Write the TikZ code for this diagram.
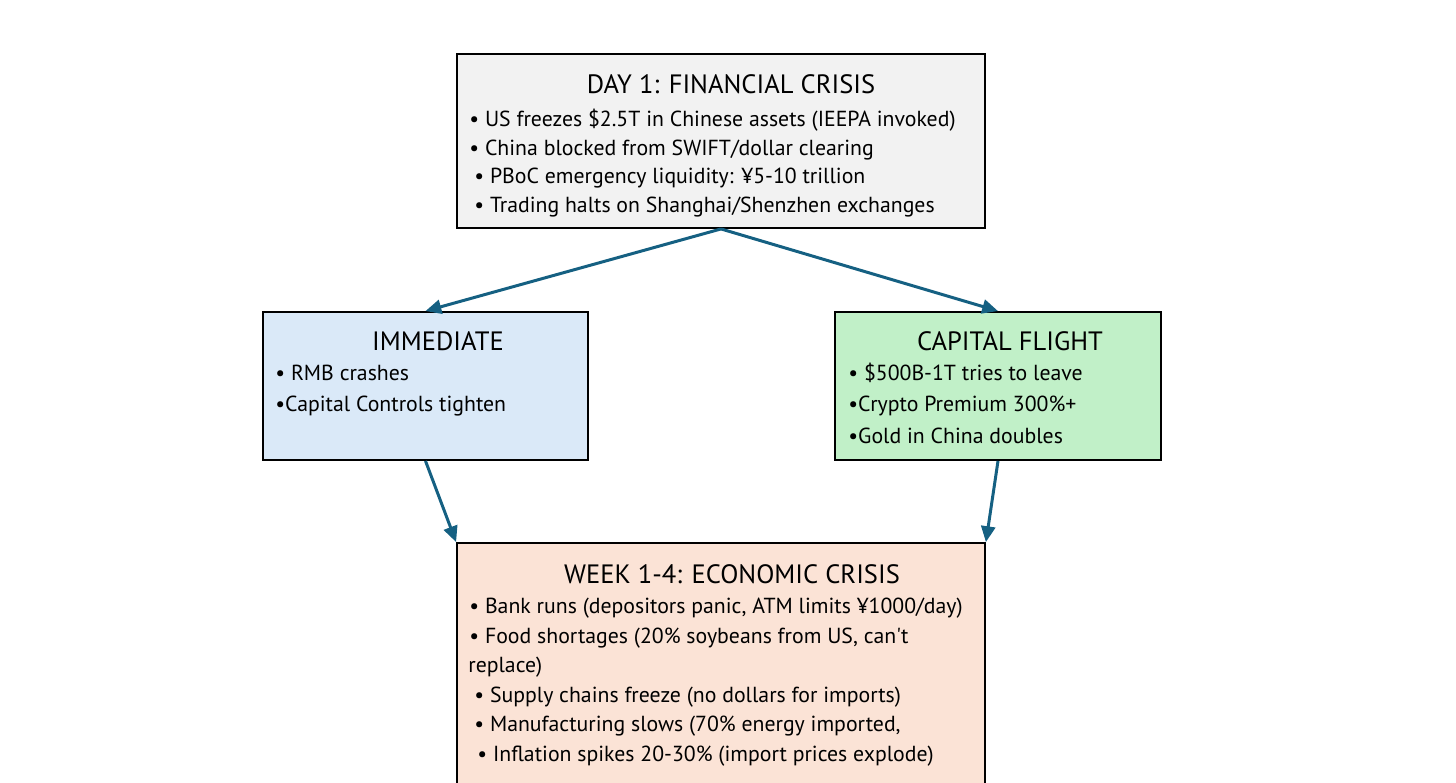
\documentclass[tikz,border=0pt]{standalone}
\usepackage{fontspec}
\newfontfamily\boxfont{PT Sans}
\definecolor{finfill}{RGB}{242,242,242}
\definecolor{immfill}{RGB}{218,233,248}
\definecolor{capfill}{RGB}{193,240,200}
\definecolor{ecofill}{RGB}{251,227,214}
\definecolor{flowblue}{RGB}{21,96,130}
\usetikzlibrary{arrows.meta}
\tikzset{
    box/.style={draw=black, line width=1.1pt, inner sep=0pt},
    flow/.style={draw=flowblue, line width=1.7pt,
        -{Triangle[length=9pt, width=8pt]}},
    boxtitle/.style={anchor=base, inner sep=0pt,
        font=\boxfont\fontsize{15.1}{17}\selectfont},
    item/.style={anchor=base west, inner sep=0pt,
        font=\boxfont\fontsize{12.4}{15}\selectfont},
}

\begin{document}
\begin{tikzpicture}[x=0.02cm, y=-0.02cm]
    \useasboundingbox (0, 0) rectangle (1456, 783);
    \clip (0, 0) rectangle (1456, 783);
    % the four boxes
    \node[box, fill=finfill, minimum width=10.56cm, minimum height=3.48cm]
        (fin) at (721, 141) {};
    \node[box, fill=immfill, minimum width=6.5cm, minimum height=2.96cm]
        (imm) at (425.5, 386) {};
    \node[box, fill=capfill, minimum width=6.52cm, minimum height=2.96cm]
        (cap) at (998, 386) {};
    \node[box, fill=ecofill, minimum width=10.56cm, minimum height=5.6cm]
        (eco) at (721, 683) {};
    % connectors
    \draw[flow] (fin.south) -- (imm.north);
    \draw[flow] (fin.south) -- (cap.north);
    \draw[flow] (imm.south) -- (eco.north west);
    \draw[flow] (cap.south) -- (eco.north east);
    % day 1
    \node[boxtitle] (fintitle) at (731, 94) {DAY 1: FINANCIAL CRISIS};
    \node[item] (fin1) at (469, 127)
        {\textbullet\ US freezes \$2.5T in Chinese assets (IEEPA invoked)};
    \node[item] (fin2) at (469, 155.5)
        {\textbullet\ China blocked from SWIFT/dollar clearing};
    \node[item] (fin3) at (474, 184)
        {\textbullet\ PBoC emergency liquidity: ¥5-10 trillion};
    \node[item] (fin4) at (474, 213)
        {\textbullet\ Trading halts on Shanghai/Shenzhen exchanges};
    % immediate
    \node[boxtitle] (immtitle) at (438, 351) {IMMEDIATE};
    \node[item] (imm1) at (275, 381) {\textbullet\ RMB crashes};
    \node[item] (imm2) at (275, 412) {\textbullet Capital Controls tighten};
    % capital flight
    \node[boxtitle] (captitle) at (1010, 351) {CAPITAL FLIGHT};
    \node[item] (cap1) at (848, 381) {\textbullet\ \$500B-1T tries to leave};
    \node[item] (cap2) at (848, 412) {\textbullet Crypto Premium 300\%+};
    \node[item] (cap3) at (848, 443) {\textbullet Gold in China doubles};
    % week 1-4
    \node[boxtitle] (ecotitle) at (732, 583) {WEEK 1-4: ECONOMIC CRISIS};
    \node[item] (eco1) at (469, 613)
        {\textbullet\ Bank runs (depositors panic, ATM limits ¥1000/day)};
    \node[item] (eco2) at (469, 643)
        {\textbullet\ Food shortages (20\% soybeans from US, can't};
    \node[item] (eco2b) at (468, 672) {replace)};
    \node[item] (eco3) at (474, 702)
        {\textbullet\ Supply chains freeze (no dollars for imports)};
    \node[item] (eco4) at (474, 731)
        {\textbullet\ Manufacturing slows (70\% energy imported,};
    \node[item] (eco5) at (477, 761)
        {\textbullet\ Inflation spikes 20-30\% (import prices explode)};
\end{tikzpicture}
\end{document}
